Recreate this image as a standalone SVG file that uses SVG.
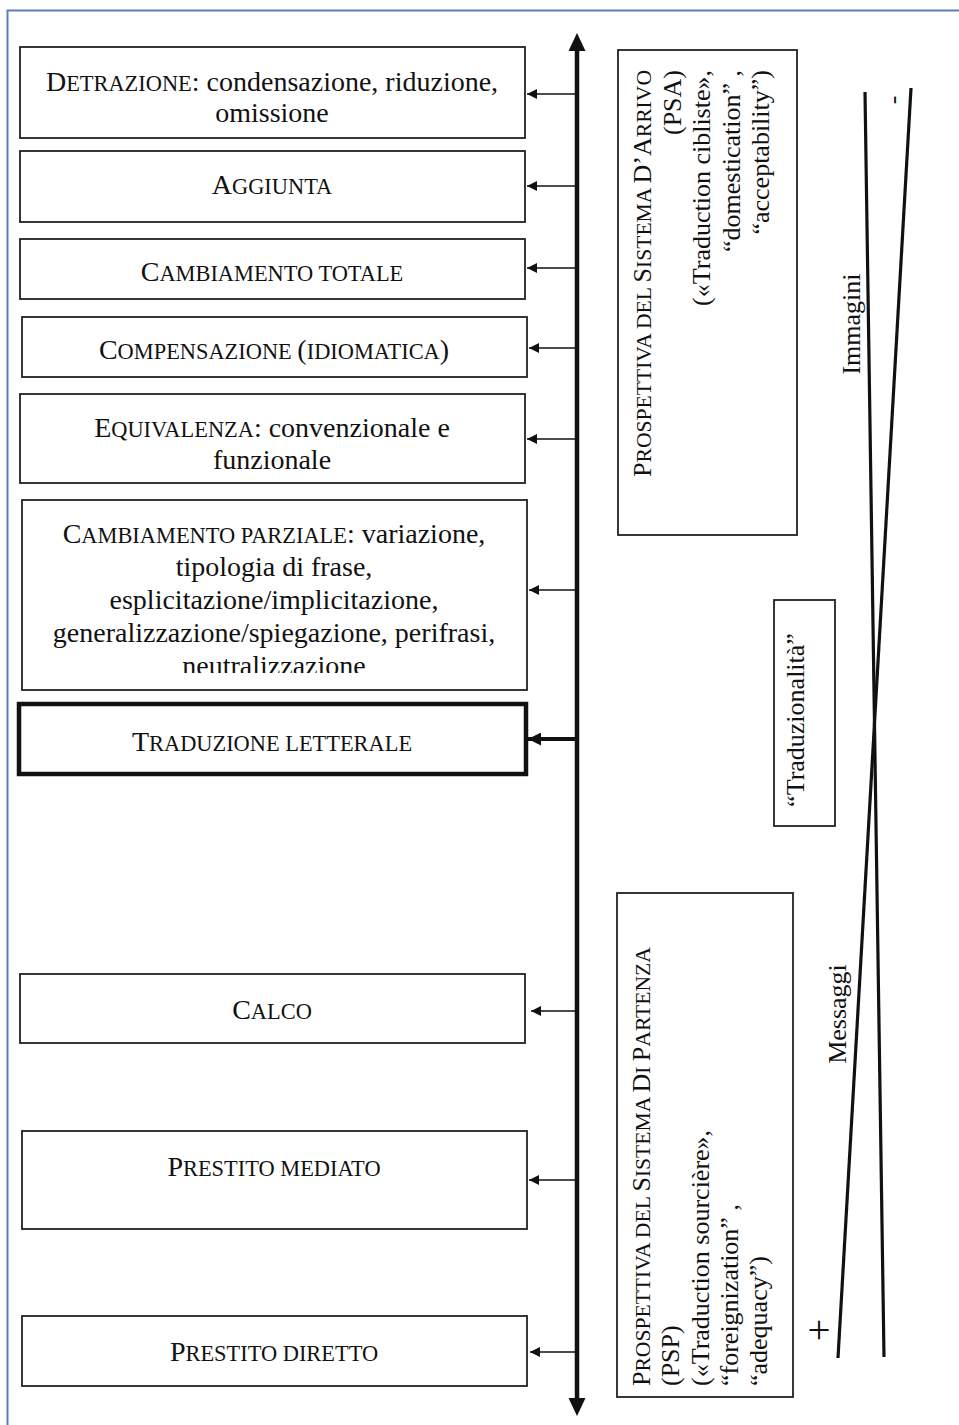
<svg xmlns="http://www.w3.org/2000/svg" width="959" height="1425" viewBox="0 0 959 1425">
  <style>
    .frame { fill: none; stroke: #5a7dc0; stroke-width: 2; }
    .box { fill: #fff; stroke: #222; stroke-width: 1.8; }
    .box-strong { fill: #fff; stroke: #111; stroke-width: 4.5; }
    .lbl { font-family: "Liberation Serif", "Times New Roman", serif; font-size: 28px; fill: #111; text-anchor: middle; }
    .lbl .sc { font-size: 22.4px; }
    .side { font-family: "Liberation Serif", "Times New Roman", serif; font-size: 26px; fill: #111; }
    .side .sc { font-size: 21.6px; }
    .sign { font-size: 40px; }
    .link { stroke: #111; stroke-width: 1.6; fill: none; marker-end: url(#tip); }
    .link-strong { stroke: #111; stroke-width: 4; fill: none; marker-end: url(#tipStrong); }
    .axis { stroke: #111; stroke-width: 4.5; fill: none; }
    .cross { stroke: #111; stroke-width: 3.2; fill: none; }
  </style>
  <defs>
    <marker id="tip" viewBox="0 0 10 10" refX="10" refY="5" markerWidth="10" markerHeight="10" markerUnits="userSpaceOnUse" orient="auto">
      <path d="M0,0 L10,5 L0,10 z" fill="#111"/>
    </marker>
    <marker id="tipStrong" viewBox="0 0 10 10" refX="10" refY="5" markerWidth="13" markerHeight="13" markerUnits="userSpaceOnUse" orient="auto">
      <path d="M0,0 L10,5 L0,10 z" fill="#111"/>
    </marker>
    <clipPath id="clipEquiv"><rect x="20" y="394" width="505" height="76"/></clipPath>
    <clipPath id="clipParz"><rect x="22" y="500" width="505" height="173"/></clipPath>
  </defs>

  <!-- page frame -->
  <polyline class="frame" points="7.5,1425 7.5,10.5 959,10.5"/>

  <!-- strategy boxes, left column -->
  <g id="detrazione">
    <rect class="box" x="20" y="47" width="505" height="91"/>
    <text class="lbl" x="272" y="91">D<tspan class="sc">ETRAZIONE</tspan>: condensazione, riduzione,</text>
    <text class="lbl" x="272" y="122">omissione</text>
  </g>
  <g id="aggiunta">
    <rect class="box" x="20" y="151" width="505" height="71"/>
    <text class="lbl" x="272" y="194">A<tspan class="sc">GGIUNTA</tspan></text>
  </g>
  <g id="cambiamento-totale">
    <rect class="box" x="20" y="239" width="505" height="60"/>
    <text class="lbl" x="272" y="281">C<tspan class="sc">AMBIAMENTO TOTALE</tspan></text>
  </g>
  <g id="compensazione">
    <rect class="box" x="22" y="317" width="505" height="60"/>
    <text class="lbl" x="274" y="359">C<tspan class="sc">OMPENSAZIONE </tspan>(<tspan class="sc">IDIOMATICA</tspan>)</text>
  </g>
  <g id="equivalenza">
    <rect class="box" x="20" y="394" width="505" height="89"/>
    <g clip-path="url(#clipEquiv)">
      <text class="lbl" x="272" y="437">E<tspan class="sc">QUIVALENZA</tspan>: convenzionale e</text>
      <text class="lbl" x="272" y="469">funzionale</text>
    </g>
  </g>
  <g id="cambiamento-parziale">
    <rect class="box" x="22" y="500" width="505" height="190"/>
    <g clip-path="url(#clipParz)">
      <text class="lbl" x="274" y="543">C<tspan class="sc">AMBIAMENTO PARZIALE</tspan>: variazione,</text>
      <text class="lbl" x="274" y="576">tipologia di frase,</text>
      <text class="lbl" x="274" y="609">esplicitazione/implicitazione,</text>
      <text class="lbl" x="274" y="642">generalizzazione/spiegazione, perifrasi,</text>
      <text class="lbl" x="274" y="675">neutralizzazione</text>
    </g>
  </g>
  <g id="traduzione-letterale">
    <rect class="box-strong" x="19" y="704" width="507" height="70"/>
    <text class="lbl" x="272" y="751">T<tspan class="sc">RADUZIONE LETTERALE</tspan></text>
  </g>
  <g id="calco">
    <rect class="box" x="20" y="974" width="505" height="69"/>
    <text class="lbl" x="272" y="1019">C<tspan class="sc">ALCO</tspan></text>
  </g>
  <g id="prestito-mediato">
    <rect class="box" x="22" y="1131" width="505" height="98"/>
    <text class="lbl" x="274" y="1176">P<tspan class="sc">RESTITO MEDIATO</tspan></text>
  </g>
  <g id="prestito-diretto">
    <rect class="box" x="22" y="1316" width="505" height="70"/>
    <text class="lbl" x="274" y="1361">P<tspan class="sc">RESTITO DIRETTO</tspan></text>
  </g>

  <!-- perspective boxes, right column (vertical text) -->
  <g id="psa">
    <rect class="box" x="618" y="50" width="179" height="485"/>
    <g class="side" text-anchor="end">
      <text transform="translate(651,70) rotate(-90)">P<tspan class="sc">ROSPETTIVA DEL </tspan>S<tspan class="sc">ISTEMA </tspan>D’A<tspan class="sc">RRIVO</tspan></text>
      <text transform="translate(681,70) rotate(-90)">(PSA)</text>
      <text transform="translate(710,70) rotate(-90)">(«Traduction cibliste»,</text>
      <text transform="translate(740,70) rotate(-90)">“domestication” ,</text>
      <text transform="translate(769,70) rotate(-90)">“acceptability”)</text>
    </g>
  </g>
  <g id="traduzionalita">
    <rect class="box" x="774" y="600" width="61" height="226"/>
    <text class="side" text-anchor="middle" transform="translate(804,720) rotate(-90)">“Traduzionalità”</text>
  </g>
  <g id="psp">
    <rect class="box" x="617" y="893" width="176" height="504"/>
    <g class="side" text-anchor="start">
      <text transform="translate(650,1386) rotate(-90)">P<tspan class="sc">ROSPETTIVA DEL </tspan>S<tspan class="sc">ISTEMA </tspan>D<tspan class="sc">I </tspan>P<tspan class="sc">ARTENZA</tspan></text>
      <text transform="translate(679,1386) rotate(-90)">(PSP)</text>
      <text transform="translate(709,1386) rotate(-90)">(«Traduction sourcière»,</text>
      <text transform="translate(738,1386) rotate(-90)">“foreignization” ,</text>
      <text transform="translate(767,1386) rotate(-90)">“adequacy”)</text>
    </g>
  </g>

  <!-- crossing scales: images vs messages -->
  <g id="scales">
    <line class="cross" x1="865" y1="92" x2="884" y2="1357"/>
    <line class="cross" x1="911" y1="88" x2="838" y2="1358"/>
    <text class="side" text-anchor="middle" transform="translate(860,324) rotate(-90)">Immagini</text>
    <text class="side" text-anchor="middle" transform="translate(846,1014) rotate(-90)">Messaggi</text>
    <text class="side" text-anchor="middle" transform="translate(901,100) rotate(-90)">-</text>
    <text class="side sign" text-anchor="middle" transform="translate(832,1330) rotate(-90)">+</text>
  </g>

  <!-- connectors: main axis and branches -->
  <g id="connectors">
    <line class="axis" x1="577" y1="48" x2="577" y2="1401"/>
    <path d="M577,33 L568.5,51 L585.5,51 z" fill="#111"/>
    <path d="M577,1416 L568.5,1398 L585.5,1398 z" fill="#111"/>
    <line class="link" x1="577" y1="94" x2="527" y2="94"/>
    <line class="link" x1="577" y1="186" x2="527" y2="186"/>
    <line class="link" x1="577" y1="268" x2="527" y2="268"/>
    <line class="link" x1="577" y1="348" x2="529" y2="348"/>
    <line class="link" x1="577" y1="439" x2="527" y2="439"/>
    <line class="link" x1="577" y1="590" x2="529" y2="590"/>
    <line class="link-strong" x1="577" y1="739" x2="528" y2="739"/>
    <line class="link" x1="577" y1="1011" x2="531" y2="1011"/>
    <line class="link" x1="577" y1="1180" x2="529" y2="1180"/>
    <line class="link" x1="577" y1="1352" x2="530" y2="1352"/>
  </g>
</svg>
